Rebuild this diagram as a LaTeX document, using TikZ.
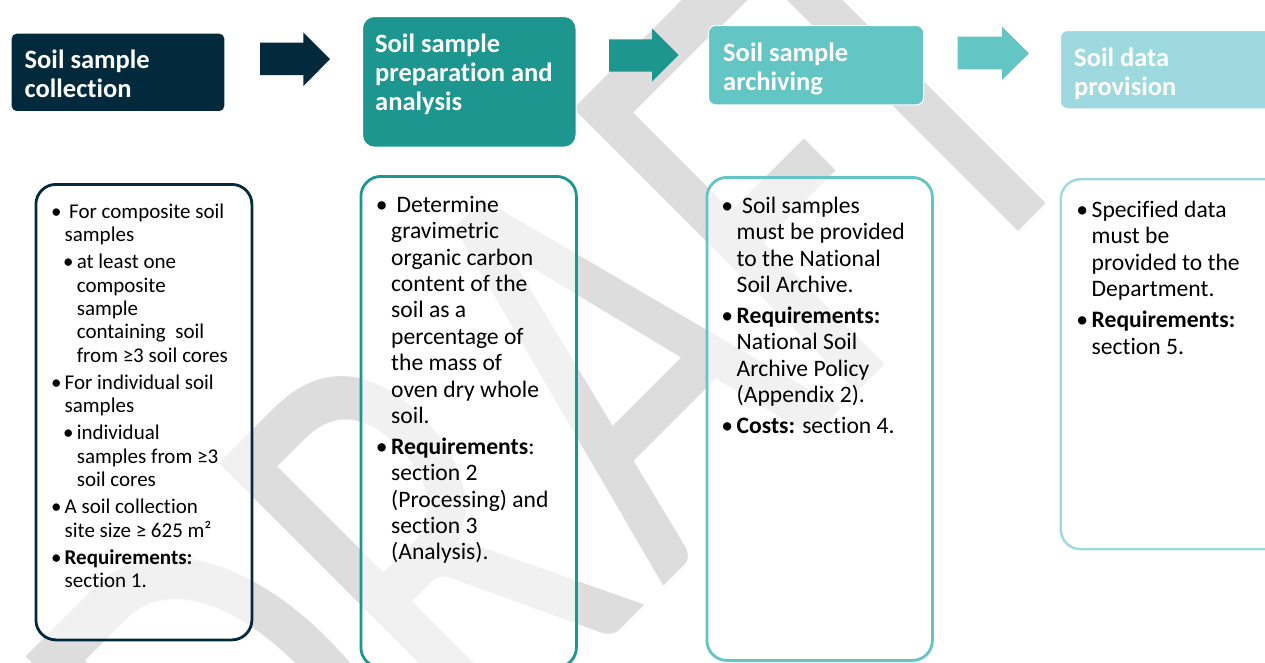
\documentclass[tikz,border=0pt]{standalone}
\usepackage{fontspec}
\setmainfont{Carlito}[Ligatures={NoCommon}]
\definecolor{navy}{HTML}{03293D}
\definecolor{tealA}{HTML}{1C968E}
\definecolor{tealB}{HTML}{63C5C4}
\definecolor{tealC}{HTML}{9FD9E0}
\definecolor{wmgray}{HTML}{DDDDDD}
\newcommand\bu{\leavevmode\llap{•\hspace{0.15em}}}
\newcommand\hdfont{\fontsize{26.5}{29.3}\selectfont\bfseries}
\newcommand\bfontA{\fontsize{21}{23.3}\selectfont}
\newcommand\bfontB{\fontsize{23.6}{26.4}\selectfont}
\newcommand\wmfont{\fontsize{625}{625}\selectfont}
\tikzset{
  hdbox/.style={draw=white, line width=1pt, anchor=north west, inner sep=0pt},
  hdtext/.style={font=\hdfont, text=white, anchor=base west, inner sep=0pt},
  cbox/.style={fill=white, fill opacity=0.6, line width=2.8pt, anchor=north west, inner sep=0pt, rounded corners=20pt},
  ctext/.style={text=black, anchor=base west, inner sep=0pt},
  wm/.style={font=\wmfont, text=wmgray, inner sep=0pt, anchor=base west, rotate=45, xscale=0.704}
}
\begin{document}
\begin{tikzpicture}[x=1pt,y=-1pt]
\useasboundingbox (0,0) rectangle (1265,662);
\begin{scope}
\clip (0,0) rectangle (1265,662);
\fill[white] (0,0) rectangle (1265,662);
% watermark letters, each on the common diagonal baseline
\node[wm] (wmD) at (288.5,961.5) {D};
\node[wm] (wmR) at (480,770) {R};
\node[wm] (wmA) at (662.5,587.5) {A};
\node[wm] (wmF) at (836.8,413.2) {F};
\node[wm] (wmT) at (956.5,293.5) {T};

% header boxes
\node[hdbox, fill=navy, rounded corners=5pt, minimum width=213.6pt, minimum height=78.3pt] (h1) at (10.7,32.7) {};
\node[hdbox, fill=tealA, rounded corners=12pt, minimum width=213.5pt, minimum height=130.7pt] (h2) at (362,16) {};
\node[hdbox, fill=tealB, rounded corners=7pt, minimum width=215pt, minimum height=79.3pt] (h3) at (708,25) {};
\node[hdbox, fill=tealC, rounded corners=7pt, minimum width=240pt, minimum height=78.3pt] (h4) at (1060,30) {};

\node[hdtext] (h1t) at (24.5,68.3) {\begin{minipage}[t]{190pt}Soil sample\\collection\end{minipage}};
\node[hdtext] (h2t) at (375,52) {\begin{minipage}[t]{195pt}Soil sample\\preparation and\\analysis\end{minipage}};
\node[hdtext] (h3t) at (723,61) {\begin{minipage}[t]{190pt}Soil sample\\archiving\end{minipage}};
\node[hdtext] (h4t) at (1074,66) {\begin{minipage}[t]{190pt}Soil data\\provision\end{minipage}};

% block arrows
\fill[navy] (260,42.7) -- (303.3,42.7) -- (303.3,32.3) -- (330,59.2) -- (303.3,86) -- (303.3,75) -- (260,75) -- cycle;
\fill[tealA] (609,39.3) -- (652,39.3) -- (652,28.3) -- (678.5,55) -- (652,81.7) -- (652,71.7) -- (609,71.7) -- cycle;
\fill[tealB] (957.5,36.7) -- (1002,36.7) -- (1002,26.7) -- (1029,53.3) -- (1002,80) -- (1002,69.3) -- (957.5,69.3) -- cycle;

% content boxes
\node[cbox, draw=navy, minimum width=216pt, minimum height=455.5pt] (c1) at (34.5,183) {};
\node[cbox, draw=tealA, minimum width=215.5pt, minimum height=491pt] (c2) at (359.5,175) {};
\node[cbox, draw=tealB, minimum width=225.5pt, minimum height=483pt] (c3) at (705.5,176) {};
\node[cbox, draw=tealC, line width=2.4pt, minimum width=240pt, minimum height=370pt] (c4) at (1059.5,178) {};

\node[ctext, font=\bfontA] (c1t) at (64.5,218.2) {\begin{minipage}[t]{200pt}
\bu\hspace{4.5pt}For composite soil\\
samples\par\vspace{4pt}
\hspace*{12.1pt}\bu at least one\\
\hspace*{12.1pt}composite\\
\hspace*{12.1pt}sample\\
\hspace*{12.1pt}containing~ soil\\
\hspace*{12.1pt}from ≥3 soil cores\par\vspace{4pt}
\bu For individual soil\\
samples\par\vspace{4pt}
\hspace*{12.1pt}\bu individual\\
\hspace*{12.1pt}samples from ≥3\\
\hspace*{12.1pt}soil cores\par\vspace{4pt}
\bu A soil collection\\
site size ≥ 625 m²\par\vspace{4pt}
\bu\textbf{Requirements:}\\
section 1.
\end{minipage}};

\node[ctext, font=\bfontB] (c2t) at (391,212.3) {\begin{minipage}[t]{200pt}
\bu\hspace{5.5pt}Determine\\
gravimetric\\
organic carbon\\
content of the\\
soil as a\\
percentage of\\
the mass of\\
oven dry whole\\
soil.\par\vspace{4.3pt}
\bu\textbf{Requirements}:\\
section 2\\
(Processing) and\\
section 3\\
(Analysis).
\end{minipage}};

\node[ctext, font=\bfontB] (c3t) at (736.5,213.2) {\begin{minipage}[t]{200pt}
\bu\hspace{5.5pt}Soil samples\\
must be provided\\
to the National\\
Soil Archive.\par\vspace{4.5pt}
\bu\textbf{Requirements:}\\
National Soil\\
Archive Policy\\
(Appendix 2).\par\vspace{5pt}
\bu\textbf{Costs:} section 4.
\end{minipage}};

\node[ctext, font=\bfontB] (c4t) at (1091.5,217.5) {\begin{minipage}[t]{200pt}
\bu Specified data\\
must be\\
provided to the\\
Department.\par\vspace{4.8pt}
\bu\textbf{Requirements:}\\
section 5.
\end{minipage}};
\end{scope}
\end{tikzpicture}
\end{document}
